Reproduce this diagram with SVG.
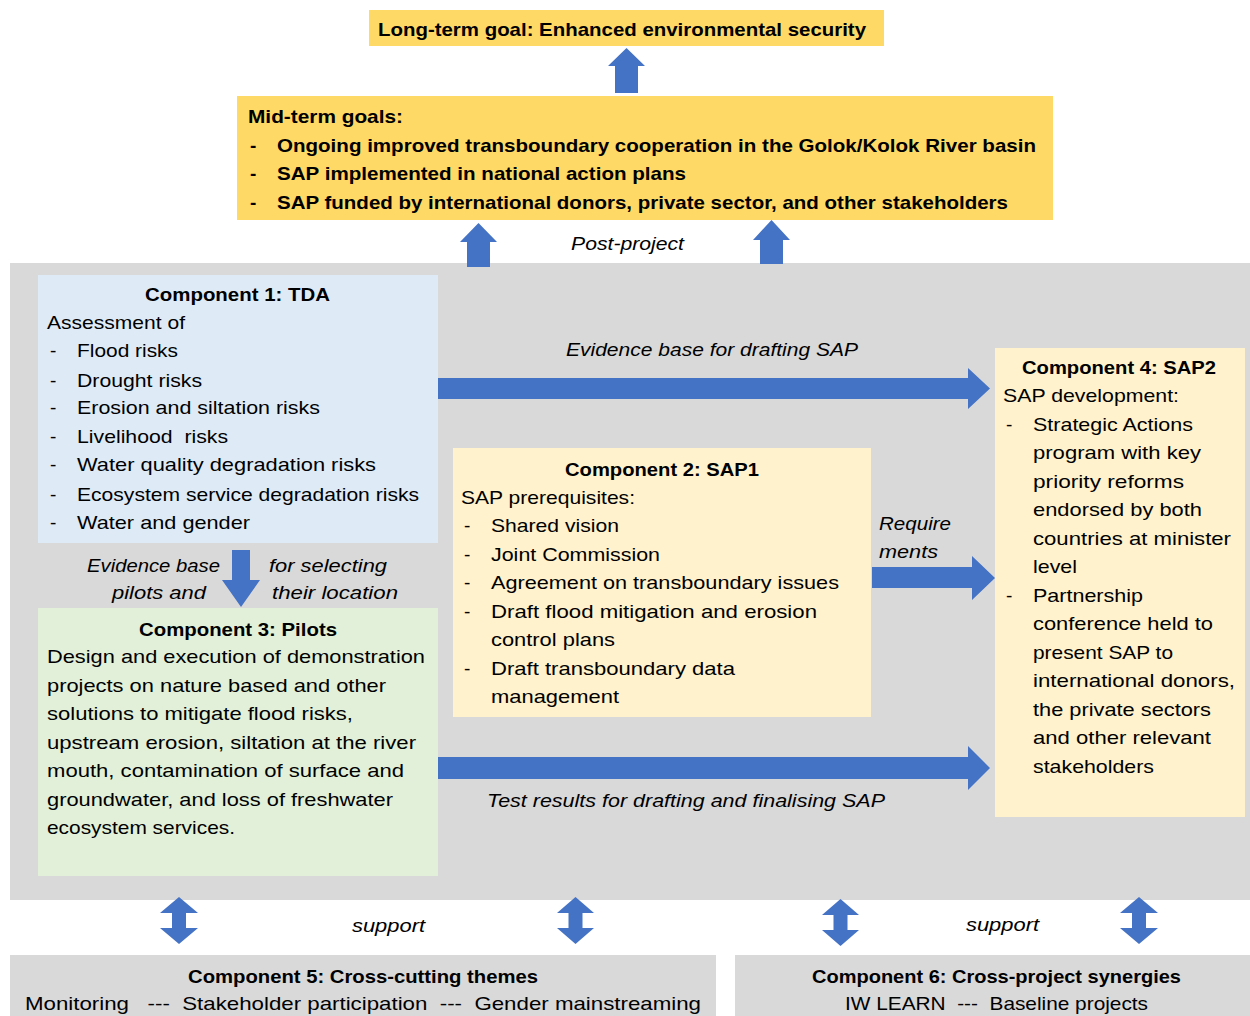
<svg xmlns="http://www.w3.org/2000/svg" width="1250" height="1016" viewBox="0 0 1250 1016">
  <style>
    text { font-family: "Liberation Sans", Arial, sans-serif; font-size: 19px; fill: #000; }
    .b { font-weight: bold; }
    .i { font-style: italic; }
    .c { text-anchor: middle; }
    .gold { fill: #FFD966; }
    .blue { fill: #DEEBF7; }
    .green { fill: #E2F0D9; }
    .cream { fill: #FFF2CC; }
    .grey { fill: #D9D9D9; }
    .arrow { fill: #4472C4; }
  </style>

  <rect x="0" y="0" width="1250" height="1016" fill="#FFFFFF"/>

  <!-- project frame -->
  <rect id="project-panel" class="grey" x="10" y="263" width="1240" height="637"/>

  <!-- goals -->
  <g id="long-term-goal">
    <rect class="gold" x="369" y="10" width="515" height="36"/>
    <text class="b" x="378" y="36" textLength="488" lengthAdjust="spacingAndGlyphs">Long-term goal: Enhanced environmental security</text>
  </g>

  <g id="mid-term-goals">
    <rect class="gold" x="237" y="96" width="816" height="124"/>
    <text class="b" x="248" y="123" textLength="155" lengthAdjust="spacingAndGlyphs">Mid-term goals:</text>
    <text class="b" x="250" y="152">-</text>
    <text class="b" x="277" y="152" textLength="759" lengthAdjust="spacingAndGlyphs">Ongoing improved transboundary cooperation in the Golok/Kolok River basin</text>
    <text class="b" x="250" y="180">-</text>
    <text class="b" x="277" y="180" textLength="409" lengthAdjust="spacingAndGlyphs">SAP implemented in national action plans</text>
    <text class="b" x="250" y="209">-</text>
    <text class="b" x="277" y="209" textLength="731" lengthAdjust="spacingAndGlyphs">SAP funded by international donors, private sector, and other stakeholders</text>
  </g>

  <!-- component 1 -->
  <g id="component-1">
    <rect class="blue" x="38" y="275" width="400" height="268"/>
    <text class="b" x="145" y="301" textLength="185" lengthAdjust="spacingAndGlyphs">Component 1: TDA</text>
    <text x="47" y="329" textLength="138" lengthAdjust="spacingAndGlyphs">Assessment of</text>
    <text x="50" y="357">-</text>
    <text x="77" y="357" textLength="101" lengthAdjust="spacingAndGlyphs">Flood risks</text>
    <text x="50" y="387">-</text>
    <text x="77" y="387" textLength="125" lengthAdjust="spacingAndGlyphs">Drought risks</text>
    <text x="50" y="414">-</text>
    <text x="77" y="414" textLength="243" lengthAdjust="spacingAndGlyphs">Erosion and siltation risks</text>
    <text x="50" y="443">-</text>
    <text x="77" y="443" textLength="151" lengthAdjust="spacingAndGlyphs" xml:space="preserve">Livelihood  risks</text>
    <text x="50" y="471">-</text>
    <text x="77" y="471" textLength="299" lengthAdjust="spacingAndGlyphs">Water quality degradation risks</text>
    <text x="50" y="501">-</text>
    <text x="77" y="501" textLength="342" lengthAdjust="spacingAndGlyphs">Ecosystem service degradation risks</text>
    <text x="50" y="529">-</text>
    <text x="77" y="529" textLength="173" lengthAdjust="spacingAndGlyphs">Water and gender</text>
  </g>

  <!-- component 3 -->
  <g id="component-3">
    <rect class="green" x="38" y="608" width="400" height="268"/>
    <text class="b" x="139" y="636" textLength="198" lengthAdjust="spacingAndGlyphs">Component 3: Pilots</text>
    <text x="47" y="663" textLength="378" lengthAdjust="spacingAndGlyphs">Design and execution of demonstration</text>
    <text x="47" y="692" textLength="339" lengthAdjust="spacingAndGlyphs">projects on nature based and other</text>
    <text x="47" y="720" textLength="306" lengthAdjust="spacingAndGlyphs">solutions to mitigate flood risks,</text>
    <text x="47" y="749" textLength="369" lengthAdjust="spacingAndGlyphs">upstream erosion, siltation at the river</text>
    <text x="47" y="777" textLength="357" lengthAdjust="spacingAndGlyphs">mouth, contamination of surface and</text>
    <text x="47" y="806" textLength="346" lengthAdjust="spacingAndGlyphs">groundwater, and loss of freshwater</text>
    <text x="47" y="834" textLength="188" lengthAdjust="spacingAndGlyphs">ecosystem services.</text>
  </g>

  <!-- component 2 -->
  <g id="component-2">
    <rect class="cream" x="453" y="448" width="418" height="269"/>
    <text class="b" x="565" y="476" textLength="194" lengthAdjust="spacingAndGlyphs">Component 2: SAP1</text>
    <text x="461" y="504" textLength="174" lengthAdjust="spacingAndGlyphs">SAP prerequisites:</text>
    <text x="464" y="532">-</text>
    <text x="491" y="532" textLength="128" lengthAdjust="spacingAndGlyphs">Shared vision</text>
    <text x="464" y="561">-</text>
    <text x="491" y="561" textLength="169" lengthAdjust="spacingAndGlyphs">Joint Commission</text>
    <text x="464" y="589">-</text>
    <text x="491" y="589" textLength="348" lengthAdjust="spacingAndGlyphs">Agreement on transboundary issues</text>
    <text x="464" y="618">-</text>
    <text x="491" y="618" textLength="326" lengthAdjust="spacingAndGlyphs">Draft flood mitigation and erosion</text>
    <text x="491" y="646" textLength="124" lengthAdjust="spacingAndGlyphs">control plans</text>
    <text x="464" y="675">-</text>
    <text x="491" y="675" textLength="244" lengthAdjust="spacingAndGlyphs">Draft transboundary data</text>
    <text x="491" y="703" textLength="128" lengthAdjust="spacingAndGlyphs">management</text>
  </g>

  <!-- component 4 -->
  <g id="component-4">
    <rect class="cream" x="995" y="348" width="250" height="469"/>
    <text class="b" x="1022" y="374" textLength="194" lengthAdjust="spacingAndGlyphs">Component 4: SAP2</text>
    <text x="1003" y="402" textLength="176" lengthAdjust="spacingAndGlyphs">SAP development:</text>
    <text x="1006" y="431">-</text>
    <text x="1033" y="431" textLength="160" lengthAdjust="spacingAndGlyphs">Strategic Actions</text>
    <text x="1033" y="459" textLength="168" lengthAdjust="spacingAndGlyphs">program with key</text>
    <text x="1033" y="488" textLength="151" lengthAdjust="spacingAndGlyphs">priority reforms</text>
    <text x="1033" y="516" textLength="169" lengthAdjust="spacingAndGlyphs">endorsed by both</text>
    <text x="1033" y="545" textLength="198" lengthAdjust="spacingAndGlyphs">countries at minister</text>
    <text x="1033" y="573" textLength="44" lengthAdjust="spacingAndGlyphs">level</text>
    <text x="1006" y="602">-</text>
    <text x="1033" y="602" textLength="110" lengthAdjust="spacingAndGlyphs">Partnership</text>
    <text x="1033" y="630" textLength="180" lengthAdjust="spacingAndGlyphs">conference held to</text>
    <text x="1033" y="659" textLength="140" lengthAdjust="spacingAndGlyphs">present SAP to</text>
    <text x="1033" y="687" textLength="202" lengthAdjust="spacingAndGlyphs">international donors,</text>
    <text x="1033" y="716" textLength="178" lengthAdjust="spacingAndGlyphs">the private sectors</text>
    <text x="1033" y="744" textLength="178" lengthAdjust="spacingAndGlyphs">and other relevant</text>
    <text x="1033" y="773" textLength="121" lengthAdjust="spacingAndGlyphs">stakeholders</text>
  </g>

  <!-- component 5 -->
  <g id="component-5">
    <rect class="grey" x="10" y="955" width="706" height="61"/>
    <text class="b" x="188" y="983" textLength="350" lengthAdjust="spacingAndGlyphs">Component 5: Cross-cutting themes</text>
    <text x="25" y="1010" textLength="676" lengthAdjust="spacingAndGlyphs" xml:space="preserve">Monitoring   ---  Stakeholder participation  ---  Gender mainstreaming</text>
  </g>

  <!-- component 6 -->
  <g id="component-6">
    <rect class="grey" x="735" y="955" width="515" height="61"/>
    <text class="b" x="812" y="983" textLength="369" lengthAdjust="spacingAndGlyphs">Component 6: Cross-project synergies</text>
    <text x="845" y="1010" textLength="303" lengthAdjust="spacingAndGlyphs" xml:space="preserve">IW LEARN  ---  Baseline projects</text>
  </g>

  <!-- connectors -->
  <g id="connectors">
    <!-- mid-term to long-term -->
    <polygon class="arrow" points="615,93 638,93 638,66 645,66 626.5,48 608,66 615,66"/>
    <!-- project to mid-term -->
    <polygon class="arrow" points="467,267 490,267 490,242 497,242 478.5,223 460,242 467,242"/>
    <polygon class="arrow" points="760,264 783,264 783,240 790,240 771.5,220 753,240 760,240"/>
    <!-- component 1 to component 3 -->
    <polygon class="arrow" points="232,550 250,550 250,580 260,580 241,607 222,580 232,580"/>
    <!-- component 1 to component 4 -->
    <polygon class="arrow" points="438,378 968,378 968,368 990,388.5 968,409 968,399 438,399"/>
    <!-- component 2 to component 4 -->
    <polygon class="arrow" points="872,567 972,567 972,556 995,578 972,600 972,588 872,588"/>
    <!-- component 3 to component 4 -->
    <polygon class="arrow" points="438,757 968,757 968,746 990,768 968,790 968,779 438,779"/>
    <!-- support links -->
    <polygon class="arrow" points="179,897 198,913 186,913 186,928 198,928 179,944 160,928 172,928 172,913 160,913"/>
    <polygon class="arrow" points="575.5,897 594,913 582.5,913 582.5,928 594,928 575.5,944 557,928 568.5,928 568.5,913 557,913"/>
    <polygon class="arrow" points="840.5,899 859,915 847.5,915 847.5,930 859,930 840.5,946 822,930 833.5,930 833.5,915 822,915"/>
    <polygon class="arrow" points="1139,897 1158,913 1146,913 1146,928 1158,928 1139,944 1120,928 1132,928 1132,913 1120,913"/>

    <text class="i" x="571" y="250" textLength="113" lengthAdjust="spacingAndGlyphs">Post-project</text>
    <text class="i" x="566" y="356" textLength="292" lengthAdjust="spacingAndGlyphs">Evidence base for drafting SAP</text>
    <text class="i" x="87" y="572" textLength="133" lengthAdjust="spacingAndGlyphs">Evidence base</text>
    <text class="i" x="112" y="599" textLength="94" lengthAdjust="spacingAndGlyphs">pilots and</text>
    <text class="i" x="269" y="572" textLength="118" lengthAdjust="spacingAndGlyphs">for selecting</text>
    <text class="i" x="272" y="599" textLength="126" lengthAdjust="spacingAndGlyphs">their location</text>
    <text class="i" x="879" y="530" textLength="72" lengthAdjust="spacingAndGlyphs">Require</text>
    <text class="i" x="879" y="558" textLength="59" lengthAdjust="spacingAndGlyphs">ments</text>
    <text class="i" x="487" y="807" textLength="398" lengthAdjust="spacingAndGlyphs">Test results for drafting and finalising SAP</text>
    <text class="i" x="352" y="932" textLength="73" lengthAdjust="spacingAndGlyphs">support</text>
    <text class="i" x="966" y="931" textLength="73" lengthAdjust="spacingAndGlyphs">support</text>
  </g>
</svg>
